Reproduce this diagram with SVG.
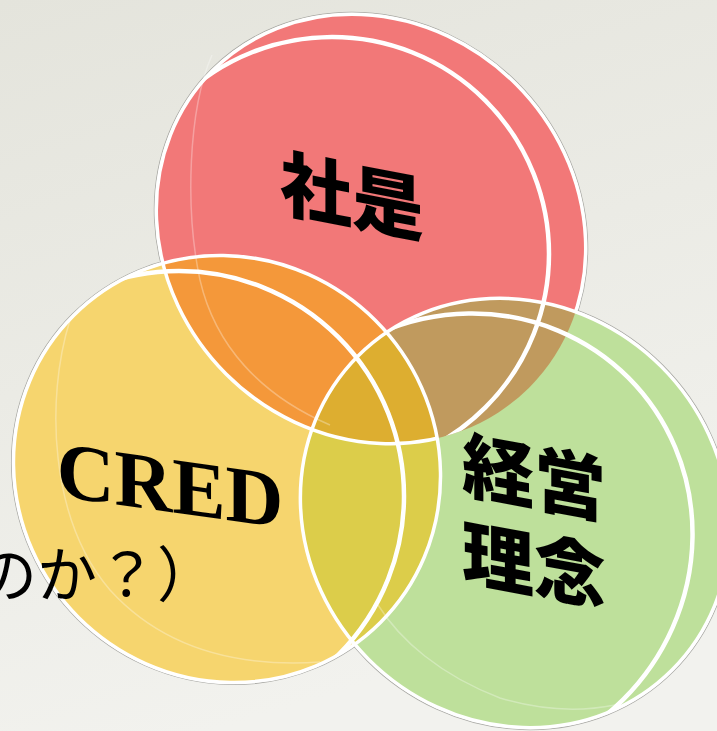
<svg xmlns="http://www.w3.org/2000/svg" width="717" height="731" viewBox="0 0 717 731">
<style>
.hair{fill:none;stroke:#8c8c88;stroke-width:1;stroke-opacity:.7}
.o{fill:none;stroke:#fff;stroke-width:3.5}
.i{fill:none;stroke:#fff;stroke-width:4.5}
.bev{fill:none;stroke:#fff;stroke-width:1.5;stroke-opacity:.3}
.jp{font-family:"Noto Sans CJK JP","Noto Sans CJK SC",sans-serif;font-weight:900;font-size:72px;fill:#000}
.en{font-family:"Liberation Serif","Times New Roman",serif;font-weight:bold;font-size:80px;fill:#000}
.side{font-family:"Noto Sans CJK JP","Noto Sans CJK SC",sans-serif;font-weight:400;font-size:60px;fill:#000}
</style>
<defs>
<linearGradient id="bg" x1="0" y1="0" x2="0.3" y2="1">
<stop offset="0" stop-color="#e4e4dc"/>
<stop offset="1" stop-color="#f2f2ee"/>
</linearGradient>
<ellipse id="R1" cx="371" cy="229" rx="224" ry="205" transform="rotate(45 371 229)"/>
<ellipse id="Y1" cx="227" cy="469" rx="217" ry="210" transform="rotate(45 227 469)"/>
<ellipse id="G1" cx="515" cy="513" rx="222" ry="207" transform="rotate(45 515 513)"/>
<clipPath id="cR"><use href="#R1"/></clipPath>
<clipPath id="cY"><use href="#Y1"/></clipPath>
<clipPath id="cG"><use href="#G1"/></clipPath>
<mask id="redEdge" maskUnits="userSpaceOnUse" x="0" y="0" width="717" height="731">
<rect x="0" y="0" width="717" height="731" fill="#fff"/>
<use href="#G1" fill="#000"/>
<use href="#Y1" fill="#fff"/>
</mask>
</defs>
<rect x="0" y="0" width="717" height="731" fill="url(#bg)"/>
<g id="hairlines">
<ellipse class="hair" cx="371" cy="229" rx="226" ry="207" transform="rotate(45 371 229)"/>
<ellipse class="hair" cx="227" cy="469" rx="219" ry="212" transform="rotate(45 227 469)"/>
<ellipse class="hair" cx="515" cy="513" rx="224" ry="209" transform="rotate(45 515 513)"/>
</g>
<g id="node-shaze">
<use href="#R1" fill="#f27878"/>
</g>
<g id="node-cred">
<use href="#Y1" fill="#f6d56e"/>
</g>
<g id="node-keiei">
<use href="#G1" fill="#bee09b"/>
</g>
<g id="overlaps">
<use href="#Y1" fill="#f4983a" clip-path="url(#cR)"/>
<use href="#G1" fill="#c09a5e" clip-path="url(#cR)"/>
<use href="#G1" fill="#dccd4a" clip-path="url(#cY)"/>
<g clip-path="url(#cR)"><use href="#G1" fill="#ddae30" clip-path="url(#cY)"/></g>
</g>
<g id="bevels">
<path class="bev" d="M212,55 C188,110 185,210 200,280 C215,345 260,395 330,425"/>
<path class="bev" d="M70,320 C45,400 50,520 110,590 C160,645 230,668 320,662"/>
<path class="bev" d="M378,605 C400,640 440,675 500,698 C540,710 580,712 615,705"/>
</g>
<g id="outlines">
<use href="#R1" class="o" mask="url(#redEdge)"/>
<use href="#Y1" class="o"/>
<use href="#G1" class="o"/>
<g clip-path="url(#cR)"><circle class="i" cx="332" cy="254" r="217"/></g>
<g clip-path="url(#cY)"><circle class="i" cx="179" cy="496" r="225"/></g>
<g clip-path="url(#cG)"><ellipse class="i" cx="465" cy="541" rx="231" ry="224" transform="rotate(-45 465 541)"/></g>
</g>
<g id="connectors"/>
<g id="label-shaze">
<text class="jp" transform="translate(352 197) skewY(11)" x="0" y="26" text-anchor="middle">社是</text>
</g>
<g id="label-cred">
<text class="en" transform="translate(170 485) skewY(8)" x="0" y="27" text-anchor="middle">CRED</text>
</g>
<g id="label-keiei">
<text class="jp" transform="translate(534 522) skewY(10.5)" text-anchor="middle"><tspan x="0" y="-18">経営</tspan><tspan x="0" y="70">理念</tspan></text>
</g>
<text class="side" x="-23" y="597">のか？）</text>
</svg>
